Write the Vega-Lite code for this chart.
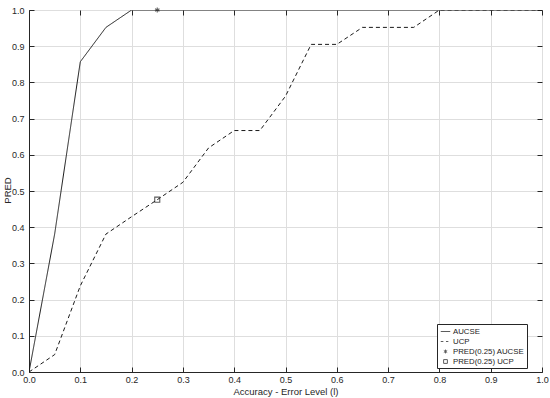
{
  "$schema": "https://vega.github.io/schema/vega-lite/v6.json",
  "width": 513,
  "height": 362,
  "autosize": "none",
  "padding": {"left": 29, "top": 10, "right": 8, "bottom": 26},
  "background": "white",
  "config": {
    "font": "Liberation Sans",
    "view": {"stroke": "#262626", "strokeWidth": 1},
    "axis": {"labelFont": "Liberation Sans", "titleFont": "Liberation Sans", "labelFontSize": 9, "titleFontSize": 9.5, "titleFontWeight": "normal", "labelColor": "#262626", "titleColor": "#262626", "domainColor": "#262626", "tickColor": "#262626", "gridColor": "#dedede", "gridWidth": 1}
  },
  "data": {"values": [
    {"x": 0, "y": 0, "series": "AUCSE"},
    {"x": 0.05, "y": 0.381, "series": "AUCSE"},
    {"x": 0.1, "y": 0.857, "series": "AUCSE"},
    {"x": 0.15, "y": 0.952, "series": "AUCSE"},
    {"x": 0.2, "y": 1, "series": "AUCSE"},
    {"x": 1, "y": 1, "series": "AUCSE"},
    {"x": 0, "y": 0, "series": "UCP"},
    {"x": 0.05, "y": 0.048, "series": "UCP"},
    {"x": 0.1, "y": 0.238, "series": "UCP"},
    {"x": 0.15, "y": 0.381, "series": "UCP"},
    {"x": 0.2, "y": 0.429, "series": "UCP"},
    {"x": 0.25, "y": 0.476, "series": "UCP"},
    {"x": 0.3, "y": 0.524, "series": "UCP"},
    {"x": 0.35, "y": 0.619, "series": "UCP"},
    {"x": 0.4, "y": 0.667, "series": "UCP"},
    {"x": 0.45, "y": 0.667, "series": "UCP"},
    {"x": 0.5, "y": 0.762, "series": "UCP"},
    {"x": 0.55, "y": 0.905, "series": "UCP"},
    {"x": 0.6, "y": 0.905, "series": "UCP"},
    {"x": 0.65, "y": 0.952, "series": "UCP"},
    {"x": 0.7, "y": 0.952, "series": "UCP"},
    {"x": 0.75, "y": 0.952, "series": "UCP"},
    {"x": 0.8, "y": 1, "series": "UCP"},
    {"x": 1, "y": 1, "series": "UCP"},
    {"x": 0.25, "y": 1, "series": "PRED(0.25) AUCSE"},
    {"x": 0.25, "y": 0.476, "series": "PRED(0.25) UCP"}
  ]},
  "layer": [
    {
      "transform": [{"filter": "datum.series === 'AUCSE' || datum.series === 'UCP'"}],
      "mark": {"type": "line", "color": "#1a1a1a", "strokeWidth": 1, "clip": true},
      "encoding": {
        "x": {"field": "x", "type": "quantitative", "scale": {"domain": [0, 1], "nice": false}, "axis": {"orient": "bottom", "values": [0,0.1,0.2,0.3,0.4,0.5,0.6,0.7,0.8,0.9,1], "tickSize": -5, "labelPadding": 8, "grid": true, "title": "Accuracy - Error Level (l)", "titleY": 19, "titleBaseline": "middle", "labelFlush": false}},
        "y": {"field": "y", "type": "quantitative", "scale": {"domain": [0, 1], "nice": false}, "axis": {"orient": "left", "values": [0,0.1,0.2,0.3,0.4,0.5,0.6,0.7,0.8,0.9,1], "tickSize": -5, "labelPadding": 10, "grid": true, "title": "PRED", "titleX": -22, "titleY": 180, "titleBaseline": "middle", "labelFlush": false}},
        "strokeDash": {"field": "series", "type": "nominal", "scale": {"domain": ["AUCSE", "UCP"], "range": [[1, 0], [4, 3]]}, "legend": null},
        "detail": {"field": "series"}
      }
    },
    {
      "transform": [{"filter": "datum.series === 'PRED(0.25) AUCSE' || datum.series === 'PRED(0.25) UCP'"}],
      "mark": {"type": "point", "filled": false, "color": "#1a1a1a", "size": 160, "strokeWidth": 1.1, "clip": false},
      "encoding": {
        "x": {"field": "x", "type": "quantitative", "axis": {"orient": "top", "values": [0,0.1,0.2,0.3,0.4,0.5,0.6,0.7,0.8,0.9,1], "tickSize": -5, "labels": false, "grid": false, "title": null, "domain": false}},
        "y": {"field": "y", "type": "quantitative", "axis": {"orient": "right", "values": [0,0.1,0.2,0.3,0.4,0.5,0.6,0.7,0.8,0.9,1], "tickSize": -5, "labels": false, "grid": false, "title": null, "domain": false}},
        "shape": {"field": "series", "type": "nominal",
          "scale": {"domain": ["AUCSE", "UCP", "PRED(0.25) AUCSE", "PRED(0.25) UCP"],
                    "range": ["M-1,0L1,0", "M-1,0L-0.45,0M0.1,0L0.6,0", "M0,-0.4L0,0.4M-0.35,-0.2L0.35,0.2M-0.35,0.2L0.35,-0.2", "M-0.4,-0.4L0.4,-0.4L0.4,0.4L-0.4,0.4Z"]},
          "legend": {"title": null, "orient": "none", "legendX": 408, "legendY": 314, "strokeColor": "#262626", "fillColor": "white", "padding": 2, "labelFont": "Liberation Sans", "labelFontSize": 7.8, "labelColor": "#1a1a1a", "symbolSize": 90, "symbolStrokeColor": "#1a1a1a", "symbolFillColor": "transparent", "symbolStrokeWidth": 1, "rowPadding": 0, "labelOffset": 2, "symbolOffset": 1}
        }
      }
    }
  ],
  "resolve": {"axis": {"x": "independent", "y": "independent"}}
}
